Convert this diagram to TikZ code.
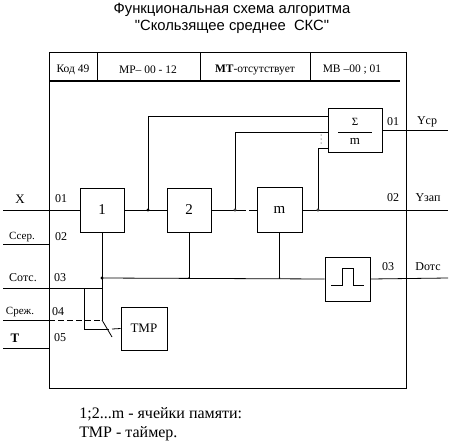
\documentclass[tikz,border=0pt]{standalone}
\usepackage{fontspec}
\setmainfont{Liberation Serif}
\newfontfamily\titlefont{Liberation Sans}[Ligatures=TeXOff]
\usetikzlibrary{
  arrows.meta,
  calc,
  positioning
}
\tikzset{
  every picture/.style={line width=0.8pt},
  blk/.style={draw, minimum width=44pt, minimum height=44pt, inner sep=0pt, font=\fontsize{15}{15}\selectfont},
  jdot/.style={circle, fill, inner sep=1.1pt},
  sdot/.style={circle, fill, inner sep=0.6pt},
  odot/.style={circle, draw, fill=white, inner sep=0.9pt, line width=0.6pt},
  pin/.style={font=\fontsize{12}{12}\selectfont, inner sep=1pt},
  cell/.style={font=\fontsize{11.5}{11.5}\selectfont, inner sep=1pt},
  note/.style={font=\fontsize{16}{16}\selectfont, anchor=west, inner sep=0pt}
}

\begin{document}
\begin{tikzpicture}[x=1pt,y=-1pt]
\useasboundingbox (0,0) rectangle (454,444);

% заголовок
\node[font=\titlefont\fontsize{14.8}{17}\selectfont, align=center] (title) at (232,18.5)
  {Функциональная схема алгоритма\\"Скользящее среднее\ \ СКС"};

% рамка и шапка
\draw (49,52) rectangle (406,388);
\draw (97,52) -- (97,81);
\draw (200,52) -- (200,81);
\draw (310,52) -- (310,81);
\draw[line width=1.6pt] (49,81) -- (400,81);
\node[cell] (kod) at (73,70) {Код 49};
\node[cell] (mr) at (148,70) {МР– 00 - 12};
\node[cell] (mt) at (255,70) {\textbf{МТ}-отсутствует};
\node[cell] (mv) at (352,70) {МВ –00 ; 01};

% блоки
\node[blk] (b1) at (102,210) {1};
\node[blk] (b2) at (189,210) {2};
\node[blk, minimum width=45pt, minimum height=45pt] (bm) at (279.5,210) {m};
\node[blk, minimum width=54pt] (sum) at (355,130) {};
\node[blk, minimum width=45pt] (pulse) at (347.5,279) {};
\node[blk, minimum width=46pt, minimum height=43pt, font=\fontsize{13}{13}\selectfont] (tmr) at (144,328.5) {ТМР};

% сумматор
\node[font=\fontsize{11}{11}\selectfont, inner sep=0pt] (sig) at (355,122) {Σ};
\node[font=\fontsize{13}{13}\selectfont, inner sep=0pt] (mm) at (355,141) {m};
\draw ([xshift=-17pt,yshift=-2pt]sum.center) -- ([xshift=17pt,yshift=-2pt]sum.center);

% импульс
\draw ($(pulse.center)+(-16.5,6)$) -- ++(11,0) -- ++(0,-17) -- ++(11,0) -- ++(0,17) -- ++(11,0);

% точки соединений
\coordinate (inX) at (3,210);
\coordinate (inS) at (3,244);
\coordinate (inC) at (3,288);
\coordinate (inR) at (3,320);
\coordinate (inT) at (3,348);
\coordinate (fS) at (49,244);
\coordinate (fR) at (49,320);
\coordinate (fT) at (49,348);
\coordinate (j1) at (148,210);
\coordinate (j2) at (235,210);
\coordinate (j3) at (318,210);
\coordinate (j4) at (102,278);
\coordinate (g1) at (246,210);
\coordinate (g2) at (249,210);
\coordinate (k1) at (102,288);
\coordinate (k2) at (84,288);
\coordinate (k3) at (109,329);
\coordinate (k4) at (112,329);
\coordinate (sw) at (102,320);
\coordinate (sw2) at (112,337);
\coordinate (outY1) at (448,130);
\coordinate (outY2) at (448,210);
\coordinate (outD) at (448,278);

% связи
\draw (inX) -- (b1.west);
\draw (b1.east) -- (b2.west);
\draw (j1) |- ([yshift=14pt]sum.west);
\draw (b2.east) -- (g1);
\draw (g2) -- (bm.west);
\draw (j2) |- ([yshift=-2pt]sum.west);
\draw (bm.east) -- (outY2);
\draw (j3) |- ([yshift=-18pt]sum.west);
\draw (sum.east) -- (outY1);
\draw (b1.south) -- (sw);
\draw (j4) -- (pulse.west);
\draw (b2.south) -- (b2.south |- j4);
\draw (bm.south) -- (bm.south |- j4);
\draw (pulse.east) -- (outD);
\draw (inS) -- (fS);
\draw (inC) -- (k1);
\draw (k2) |- (k3);
\draw (sw) -- (sw2);
\draw (k4) -- (tmr.west);
\draw (inR) -- (fR);
\draw[dash pattern=on 6pt off 3pt] (fR) -- (sw);
\draw (inT) -- (fT);

\node[jdot] at (j1) {};
\node[jdot] at (j4) {};
\node[sdot] at (b2.south |- j4) {};
\node[sdot] at (bm.south |- j4) {};
\node[odot] at (j2) {};
\node[odot] at (j3) {};
\foreach \k in {135,139,143}
  \fill (321,\k) circle (0.5pt);

% подписи входов
\node[pin, font=\fontsize{13}{13}\selectfont] (lX) at (20,199) {X};
\node[pin, font=\fontsize{11}{11}\selectfont] (lS) at (22,237) {Ссер.};
\node[pin] (p1) at (61,199) {01};
\node[pin] (p2) at (61,237) {02};
\node[pin] (lC) at (23,278) {Сотс.};
\node[pin] (p3) at (60,278) {03};
\node[pin, font=\fontsize{11}{11}\selectfont] (lR) at (20,312) {Среж.};
\node[pin] (p4) at (58,312) {04};
\node[pin, font=\bfseries\fontsize{13}{13}\selectfont] (lT) at (15,338) {Т};
\node[pin] (p5) at (60,338) {05};

% подписи выходов
\node[pin] (q1) at (393,122) {01};
\node[pin] (lY1) at (427,122) {Yср};
\node[pin] (q2) at (393,198) {02};
\node[pin] (lY2) at (428,198) {Yзап};
\node[pin] (q3) at (388,267) {03};
\node[pin] (lD) at (428,267) {Dотс};

% примечание
\node[note] (n1) at (79,414) {1;2...m - ячейки памяти:};
\node[note] (n2) at (79,434) {ТМР - таймер.};

\end{tikzpicture}
\end{document}
